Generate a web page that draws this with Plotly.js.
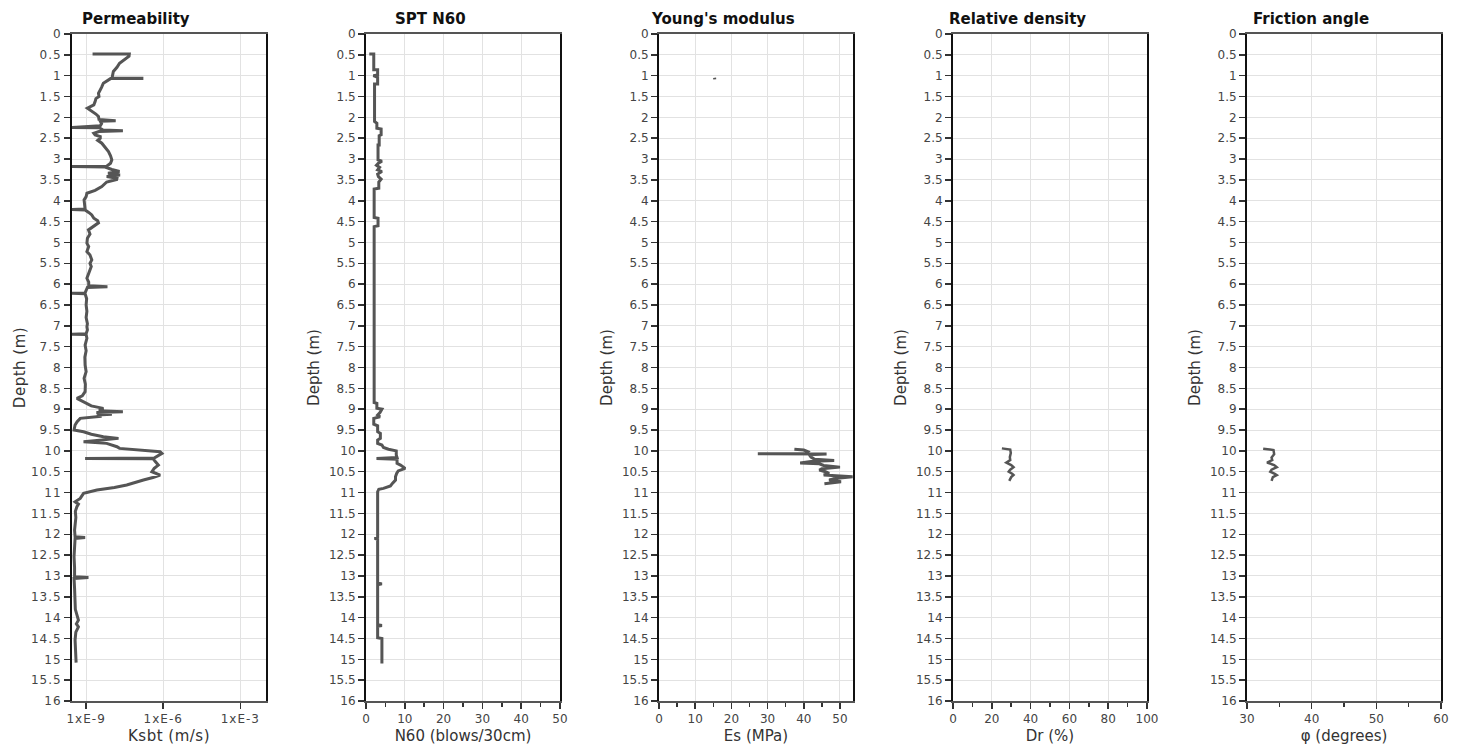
<!DOCTYPE html>
<html>
<head>
<meta charset="utf-8">
<script src="https://cdn.plot.ly/plotly-3.0.1.min.js"></script>
<style>
  html, body { margin: 0; padding: 0; background: #fff; }
  #chart { width: 1469px; height: 751px; }
  #chart .xtick text, #chart .ytick text { letter-spacing: 1px; }
  #chart .xtitle, #chart .ytitle, #chart .xtitle text, #chart .ytitle text { letter-spacing: 0.5px; }
</style>
</head>
<body>
<div id="chart"></div>
<script>
// ---------------- DATA ----------------
const panelTitles = ["Permeability", "SPT N60", "Young's modulus", "Relative density", "Friction angle"];
const xAxisTitles = ["Ksbt (m/s)", "N60 (blows/30cm)", "Es (MPa)", "Dr (%)", "φ (degrees)"];
const depthTitle = "Depth (m)";
const ksbtTickVals = [1e-9, 1e-6, 1e-3];
const ksbtTickText = ["1xE-9", "1xE-6", "1xE-3"];

// Permeability: depth (m) and log10 of Ksbt (m/s)
const ksbtDepth = [0.48,0.48,0.53,0.62,0.70,0.80,0.90,1.02,1.06,1.06,1.07,1.07,1.12,1.18,1.28,1.35,1.42,1.50,1.55,1.62,1.70,1.78,1.86,1.92,1.98,2.05,2.08,2.09,2.15,2.20,2.24,2.25,2.30,2.32,2.34,2.38,2.42,2.46,2.50,2.55,2.62,2.72,2.82,2.92,3.02,3.10,3.17,3.18,3.19,3.25,3.30,3.34,3.38,3.42,3.46,3.49,3.55,3.66,3.75,3.82,3.90,3.98,4.10,4.20,4.21,4.22,4.28,4.34,4.42,4.48,4.53,4.60,4.70,4.80,4.90,5.02,5.10,5.22,5.30,5.42,5.50,5.58,5.66,5.75,5.86,5.95,6.04,6.06,6.08,6.15,6.21,6.22,6.23,6.35,6.50,6.65,6.80,6.95,7.02,7.10,7.19,7.20,7.21,7.30,7.46,7.60,7.75,7.94,8.10,8.26,8.40,8.58,8.68,8.74,8.82,8.92,8.98,9.04,9.06,9.08,9.12,9.14,9.17,9.22,9.30,9.38,9.50,9.54,9.60,9.66,9.70,9.74,9.78,9.82,9.86,9.90,9.94,9.98,10.02,10.06,10.12,10.17,10.18,10.19,10.26,10.34,10.42,10.50,10.58,10.64,10.70,10.76,10.82,10.88,10.94,11.02,11.08,11.14,11.22,11.28,11.34,11.45,11.60,11.74,11.90,12.06,12.08,12.10,12.30,12.54,12.80,13.02,13.04,13.06,13.30,13.50,13.80,14.06,14.15,14.22,14.35,14.54,14.80,15.08];
const ksbtLog10 = [-8.75,-7.32,-7.33,-7.55,-7.70,-7.80,-7.94,-7.98,-7.98,-6.83,-6.83,-8.05,-8.20,-8.33,-8.40,-8.45,-8.52,-8.50,-8.62,-8.65,-8.70,-8.95,-8.74,-8.62,-8.52,-8.50,-7.85,-8.45,-8.40,-8.45,-9.55,-8.50,-8.35,-7.57,-8.50,-8.70,-8.65,-8.45,-8.45,-8.55,-8.39,-8.25,-8.13,-8.05,-8.00,-8.05,-8.20,-9.55,-8.26,-8.00,-7.70,-8.15,-7.68,-8.20,-7.80,-7.81,-8.20,-8.39,-8.65,-8.97,-9.00,-9.08,-9.05,-9.04,-9.55,-9.04,-8.90,-8.78,-8.70,-8.55,-8.52,-8.70,-8.91,-8.85,-8.95,-8.97,-8.90,-8.97,-8.85,-8.78,-8.85,-8.80,-8.84,-8.90,-8.97,-8.90,-8.90,-8.17,-8.95,-9.00,-9.04,-9.55,-9.04,-8.98,-9.00,-8.97,-9.00,-8.95,-8.97,-8.95,-9.00,-9.55,-9.00,-8.97,-9.04,-9.00,-9.05,-9.04,-9.00,-9.08,-9.03,-9.04,-9.15,-9.36,-9.10,-8.80,-8.33,-8.50,-7.57,-8.60,-8.00,-8.58,-8.40,-9.23,-9.35,-9.43,-9.47,-9.10,-8.80,-8.33,-7.74,-8.50,-9.10,-8.20,-7.94,-7.80,-7.70,-6.80,-6.12,-6.05,-6.20,-6.35,-9.04,-6.39,-6.30,-6.19,-6.35,-6.44,-6.12,-6.40,-6.77,-7.10,-7.42,-7.90,-8.58,-9.10,-9.15,-9.23,-9.43,-9.30,-9.36,-9.42,-9.40,-9.43,-9.45,-9.43,-9.04,-9.43,-9.45,-9.47,-9.45,-9.45,-8.91,-9.47,-9.45,-9.43,-9.42,-9.30,-9.38,-9.30,-9.40,-9.43,-9.40,-9.39];

// SPT N60
const sptDepth = [0.48,0.48,0.86,0.86,0.98,1.00,1.04,1.20,1.20,2.10,2.14,2.26,2.28,2.42,2.44,2.66,2.66,3.02,3.05,3.10,3.15,3.20,3.26,3.30,3.36,3.42,3.48,3.55,3.70,3.72,4.40,4.42,4.60,4.62,8.84,8.86,8.98,9.00,9.08,9.14,9.18,9.22,9.36,9.40,9.54,9.58,9.70,9.74,9.82,9.86,9.92,9.96,10.00,10.10,10.16,10.18,10.20,10.30,10.34,10.42,10.48,10.54,10.62,10.70,10.78,10.84,10.90,10.92,10.98,12.08,12.10,12.12,13.17,13.19,13.21,14.17,14.19,14.21,14.48,14.50,15.10];
const sptN60 = [0.85,2.0,2.0,3.0,3.0,1.9,3.0,3.0,2.2,2.2,2.8,2.8,3.9,3.9,3.4,3.4,3.1,3.1,4.1,3.2,2.7,3.5,3.0,4.1,3.0,3.2,3.9,3.3,3.3,2.1,2.1,3.1,3.1,2.1,2.1,2.8,2.8,4.1,3.6,3.0,3.6,2.0,2.0,3.0,3.0,3.7,3.7,3.0,3.0,4.1,4.5,5.8,7.8,7.8,8.0,2.7,8.0,8.0,8.9,10.1,8.3,7.9,7.6,7.6,6.8,6.3,4.5,3.3,3.0,3.0,2.2,3.0,3.0,4.1,3.0,3.0,4.1,3.0,3.0,4.1,4.1];

// Young's modulus (null separates the isolated reading near 1 m)
const esDepth = [1.05,1.09,null,9.96,9.98,10.02,10.06,10.07,10.075,10.09,10.15,10.20,10.23,10.25,10.29,10.31,10.35,10.39,10.43,10.46,10.50,10.54,10.58,10.62,10.66,10.70,10.74,10.77,10.79];
const esMPa = [15.35,15.4,null,37.4,40.0,41.1,40.5,27.3,46.3,41.5,42.0,43.0,48.4,42.5,39.0,44.3,45.5,50.0,45.0,44.3,46.0,47.0,45.5,53.5,48.5,47.0,50.3,47.5,45.7];

// Relative density
const drDepth = [9.94,9.97,10.05,10.15,10.22,10.28,10.34,10.39,10.45,10.50,10.55,10.58,10.63,10.68,10.72];
const drPct = [25.2,29.5,29.8,29.3,29.5,27.5,30.0,31.2,29.5,28.7,30.5,31.2,30.0,29.3,29.0];

// Friction angle
const phiDepth = [9.95,9.98,10.08,10.16,10.22,10.28,10.34,10.39,10.45,10.50,10.55,10.58,10.63,10.68,10.72];
const phiDeg = [32.5,34.1,34.2,33.8,33.9,33.1,34.2,34.6,33.8,33.6,34.3,34.6,34.0,33.9,33.8];

// ---------------- CHART ----------------
const W = 1469, H = 751;
const panelLeft = [72, 366, 659, 953, 1247];
const panelWidth = 194;
const plotTop = 34, plotBottom = 701;
const FONT = "DejaVu Sans, Verdana, sans-serif";
const lineStyle = {color: "#555555", width: 3};

const ksbt = ksbtLog10.map(v => Math.pow(10, v));

const traces = [
  {x: ksbt, y: ksbtDepth, xaxis: "x", yaxis: "y"},
  {x: sptN60, y: sptDepth, xaxis: "x2", yaxis: "y2"},
  {x: esMPa, y: esDepth, xaxis: "x3", yaxis: "y3", connectgaps: false},
  {x: drPct, y: drDepth, xaxis: "x4", yaxis: "y4", line: {color: "#555555", width: 2.5}},
  {x: phiDeg, y: phiDepth, xaxis: "x5", yaxis: "y5", line: {color: "#555555", width: 2.5}}
].map(t => Object.assign({type: "scatter", mode: "lines", line: lineStyle, hoverinfo: "x+y"}, t));

const layout = {
  width: W, height: H,
  margin: {l: 0, r: 0, t: 0, b: 0},
  paper_bgcolor: "#ffffff", plot_bgcolor: "#ffffff",
  showlegend: false,
  font: {family: FONT, size: 12, color: "#444"},
  annotations: []
};

const xRanges = [[-9.55, -2], [0, 50], [0, 53.6], [0, 100], [30, 60]];
const xDticks = [null, 10, 10, 20, 10];
const xMinor = [null, 5, 5, 10, 5];

for (let i = 0; i < 5; i++) {
  const s = i === 0 ? "" : String(i + 1);
  const domX = [panelLeft[i] / W, (panelLeft[i] + panelWidth) / W];
  const domY = [1 - plotBottom / H, 1 - plotTop / H];
  const xa = {
    domain: domX, anchor: "y" + s, range: xRanges[i],
    showgrid: true, gridcolor: "#e2e2e2", gridwidth: 1,
    zeroline: false,
    showline: true, linecolor: "#555", linewidth: 2, mirror: true,
    ticks: "outside", ticklen: 6, tickwidth: 1.5, tickcolor: "#333",
    tickfont: {family: FONT, size: 12, color: "#444"},
    title: {text: xAxisTitles[i], font: {family: FONT, size: 15, color: "#333"}, standoff: 5},
    fixedrange: true
  };
  if (i === 0) {
    xa.type = "log";
    xa.tickmode = "array";
    xa.tickvals = ksbtTickVals;
    xa.ticktext = ksbtTickText;
  } else {
    xa.tick0 = 0; xa.dtick = xDticks[i];
    xa.minor = {dtick: xMinor[i], ticks: "outside", ticklen: 4, tickwidth: 1.5, tickcolor: "#333", showgrid: false};
  }
  const ya = {
    domain: domY, anchor: "x" + s, range: [16, 0],
    tick0: 0, dtick: 0.5,
    showgrid: true, gridcolor: "#e2e2e2", gridwidth: 1,
    zeroline: false,
    showline: true, linecolor: "#111", linewidth: 2, mirror: true,
    ticks: "outside", ticklen: 6, tickwidth: 1.5, tickcolor: "#333",
    tickfont: {family: FONT, size: 12, color: "#444"},
    title: {text: depthTitle, font: {family: FONT, size: 15, color: "#333"}, standoff: 6},
    fixedrange: true
  };
  layout["xaxis" + s] = xa;
  layout["yaxis" + s] = ya;
  layout.annotations.push({
    text: "<b>" + panelTitles[i] + "</b>",
    xref: "paper", yref: "paper",
    x: (panelLeft[i] + 64) / W, y: 1 - 19 / H,
    xanchor: "center", yanchor: "middle",
    showarrow: false,
    font: {family: FONT, size: 15, color: "#111"}
  });
}

Plotly.newPlot("chart", traces, layout, {displayModeBar: false, staticPlot: true});
</script>
</body>
</html>
